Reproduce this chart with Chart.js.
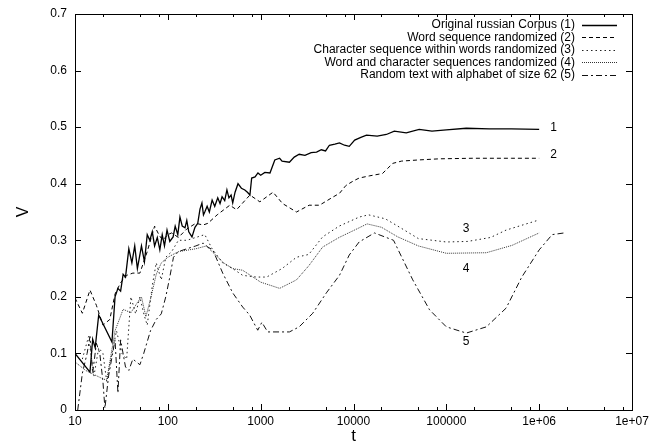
<!DOCTYPE html>
<html>
<head>
<meta charset="utf-8">
<script src="https://cdn.jsdelivr.net/npm/chart.js@4"></script>
<style>
html,body{margin:0;padding:0;background:#fff;}
canvas{display:block;}
</style>
</head>
<body>
<canvas id="c" width="663" height="447"></canvas>
<script>
// ---- data ----
const seriesNames = [
  "Original russian Corpus (1)",
  "Word sequence randomized (2)",
  "Character sequence within words randomized (3)",
  "Word and character sequences randomized (4)",
  "Random text with alphabet of size 62 (5)"
];
const xTickValues = [10, 100, 1000, 10000, 100000, 1000000, 10000000];
const xTickLabels = ["10", "100", "1000", "10000", "100000", "1e+06", "1e+07"];
const yTickValues = [0, 0.1, 0.2, 0.3, 0.4, 0.5, 0.6, 0.7];
const yTickLabels = ["0", "0.1", "0.2", "0.3", "0.4", "0.5", "0.6", "0.7"];

const t1 = [10,14.5,15.5,16.5,18,25,27,29,31,33,35,38,41,44,47,52,56,60,64,68,72,77,82,87,92,98,105,114,120,128,135,143,153,160,168,182,196,210,222,233,242,250,265,280,300,320,345,365,384,410,433,455,480,500,530,570,620,675,720,766,800,870,935,1000,1110,1260,1420,1600,1700,2040,2300,2600,3000,3500,4000,4500,5000,5500,6300,7060,8000,9000,10300,12000,13800,18000,22600,27500,37000,51000,70000,100000,164000,290000,500000,1000000];
const v1 = [0.1,0.067,0.125,0.11,0.168,0.12,0.2,0.215,0.21,0.24,0.235,0.285,0.26,0.29,0.25,0.29,0.262,0.31,0.3,0.315,0.29,0.305,0.283,0.31,0.29,0.318,0.298,0.306,0.325,0.31,0.341,0.325,0.322,0.335,0.315,0.306,0.323,0.33,0.355,0.366,0.345,0.35,0.36,0.35,0.371,0.36,0.375,0.365,0.377,0.37,0.389,0.375,0.38,0.366,0.385,0.4,0.392,0.389,0.385,0.38,0.41,0.412,0.419,0.415,0.42,0.419,0.442,0.445,0.44,0.438,0.447,0.452,0.45,0.455,0.456,0.46,0.458,0.468,0.47,0.472,0.468,0.466,0.477,0.482,0.486,0.484,0.487,0.493,0.49,0.496,0.493,0.495,0.498,0.497,0.497,0.496];

const t2 = [10,12,14.5,17,20,23.7,27,31,36,42,50,60,72,80,88,100,110,130,160,200,240,270,340,465,550,766,980,1360,1720,2430,3330,4300,5950,7060,8300,10000,11500,15000,20500,26500,33000,50000,84000,190000,500000,1000000];
const v2 = [0.198,0.171,0.212,0.185,0.15,0.16,0.205,0.225,0.238,0.242,0.242,0.28,0.325,0.31,0.3,0.31,0.313,0.305,0.32,0.33,0.327,0.33,0.345,0.362,0.354,0.38,0.368,0.385,0.365,0.35,0.362,0.362,0.376,0.383,0.397,0.405,0.41,0.414,0.418,0.436,0.44,0.442,0.444,0.445,0.445,0.445];

const t3 = [12,14,16,18,20,22,25,28,32,36,40,45,50,55,60,68,75,85,95,110,130,160,200,250,300,390,500,640,900,1160,1700,2430,3300,4650,7000,11500,14500,22000,30000,50000,100000,170000,300000,440000,1000000];
const v3 = [0.09,0.13,0.06,0.11,0.1,0.05,0.1,0.14,0.1,0.09,0.2,0.17,0.2,0.17,0.15,0.22,0.26,0.23,0.27,0.28,0.3,0.3,0.305,0.31,0.285,0.26,0.25,0.238,0.235,0.235,0.25,0.27,0.275,0.306,0.325,0.341,0.345,0.338,0.325,0.303,0.297,0.298,0.305,0.318,0.336];

const t4 = [10,13,15,20,22,24,27,33,40,47,52,58,66,75,85,100,130,200,260,300,400,500,640,1000,1600,2430,3300,4650,7000,11500,14000,20000,30000,50000,100000,270000,510000,1000000];
const v4 = [0.085,0.07,0.065,0.055,0.053,0.09,0.14,0.178,0.172,0.19,0.2,0.165,0.2,0.24,0.26,0.27,0.28,0.285,0.29,0.28,0.26,0.25,0.247,0.226,0.215,0.23,0.255,0.288,0.305,0.322,0.329,0.323,0.306,0.29,0.277,0.278,0.291,0.313];

const t5 = [10.7,12,13.5,14.5,15.5,17,18.5,20,21,23,27,29,31,35,38,42,50,55,65,75,85,95,105,115,130,160,200,240,270,305,390,500,640,760,930,1030,1190,1600,2040,2600,3640,5100,7060,9000,11500,16800,27000,43500,66000,100000,164000,270000,440000,650000,1000000,1380000,1860000];
const v5 = [0,0.065,0.1,0.13,0.065,0.118,0.1,0.05,0.003,0.06,0.124,0.03,0.124,0.076,0.07,0.09,0.08,0.1,0.14,0.16,0.17,0.2,0.235,0.27,0.28,0.285,0.29,0.295,0.288,0.283,0.242,0.207,0.182,0.168,0.141,0.155,0.138,0.138,0.138,0.147,0.171,0.207,0.238,0.274,0.297,0.313,0.3,0.23,0.177,0.147,0.136,0.147,0.18,0.235,0.283,0.31,0.313];

const lineLabelText = ["1", "2", "3", "4", "5"];
const lineLabelT = [1430000, 1430000, 163000, 163000, 163000];
const lineLabelV = [0.4985, 0.451, 0.32, 0.249, 0.12];

// ---- styles ----
const styles = [
  {color: "#000", width: 1.3, dash: []},
  {color: "#000", width: 1, dash: [4, 3]},
  {color: "#222", width: 1, dash: [1.5, 3]},
  {color: "#333", width: 1, dash: [1, 1]},
  {color: "#111", width: 1, dash: [6, 3, 2, 3]}
];
const FONT = "'Liberation Sans', Arial, Helvetica, sans-serif";

function pts(ts, vs) { return ts.map((t, i) => ({x: t, y: vs[i]})); }
const allData = [pts(t1, v1), pts(t2, v2), pts(t3, v3), pts(t4, v4), pts(t5, v5)];

const datasets = allData.map((d, i) => ({
  label: seriesNames[i],
  data: d,
  borderColor: styles[i].color,
  borderWidth: styles[i].width,
  borderDash: styles[i].dash,
  pointRadius: 0,
  tension: 0,
  fill: false
}));

const decor = {
  id: "decor",
  afterDatasetsDraw(chart) {
    const ctx = chart.ctx;
    const a = chart.chartArea;
    const xs = chart.scales.x, ys = chart.scales.y;
    ctx.save();
    ctx.strokeStyle = "#000";
    ctx.lineWidth = 1;
    ctx.setLineDash([]);
    // frame
    ctx.strokeRect(Math.round(a.left) + 0.5, Math.round(a.top) + 0.5, Math.round(a.right - a.left), Math.round(a.bottom - a.top));
    ctx.beginPath();
    // x ticks
    xTickValues.forEach((v, i) => {
      const px = Math.round(xs.getPixelForValue(v)) + 0.5;
      ctx.moveTo(px, a.bottom); ctx.lineTo(px, a.bottom - 6);
      ctx.moveTo(px, a.top); ctx.lineTo(px, a.top + 6);
      if (i < xTickValues.length - 1) {
        [2, 5, 8].forEach(m => {
          const mx = Math.round(xs.getPixelForValue(v * m)) + 0.5;
          ctx.moveTo(mx, a.bottom); ctx.lineTo(mx, a.bottom - 3);
          ctx.moveTo(mx, a.top); ctx.lineTo(mx, a.top + 3);
        });
      }
    });
    // y ticks
    yTickValues.forEach(v => {
      const py = Math.round(ys.getPixelForValue(v)) + 0.5;
      ctx.moveTo(a.left, py); ctx.lineTo(a.left + 6, py);
      ctx.moveTo(a.right, py); ctx.lineTo(a.right - 6, py);
    });
    ctx.stroke();

    // legend
    ctx.font = "12px " + FONT;
    ctx.fillStyle = "#000";
    ctx.textAlign = "right";
    ctx.textBaseline = "middle";
    const lx = 575, sx0 = 582, sx1 = 617, ly0 = 25, dy = 12.4;
    seriesNames.forEach((n, i) => {
      const y = ly0 + i * dy;
      ctx.fillText(n, lx, y);
      ctx.beginPath();
      ctx.strokeStyle = styles[i].color;
      ctx.lineWidth = styles[i].width;
      ctx.setLineDash(styles[i].dash);
      ctx.moveTo(sx0, Math.round(y) + 0.5);
      ctx.lineTo(sx1, Math.round(y) + 0.5);
      ctx.stroke();
    });
    ctx.setLineDash([]);

    // line labels
    ctx.textAlign = "center";
    lineLabelText.forEach((s, i) => {
      ctx.fillText(s, xs.getPixelForValue(lineLabelT[i]), ys.getPixelForValue(lineLabelV[i]));
    });
    ctx.restore();
  }
};

new Chart(document.getElementById("c"), {
  type: "line",
  data: {datasets},
  plugins: [decor],
  options: {
    responsive: false,
    animation: false,
    devicePixelRatio: 1,
    layout: {padding: {top: 14, right: 31, left: 0, bottom: 0}},
    plugins: {legend: {display: false}, tooltip: {enabled: false}},
    scales: {
      x: {
        type: "logarithmic",
        min: 10, max: 10000000,
        grid: {display: false, drawTicks: false},
        border: {display: false},
        afterBuildTicks: s => { s.ticks = xTickValues.map(v => ({value: v})); },
        afterFit: s => { s.height = 37; s.paddingLeft = 0; s.paddingRight = 0; },
        ticks: {
          autoSkip: false, maxRotation: 0, padding: 4,
          color: "#000", font: {family: FONT, size: 12},
          callback: (v, i) => xTickLabels[i]
        },
        title: {display: true, text: "t", color: "#000", font: {family: FONT, size: 17}, padding: {top: 0, bottom: 0}}
      },
      y: {
        type: "linear",
        min: 0, max: 0.7,
        grid: {display: false, drawTicks: false},
        border: {display: false},
        afterBuildTicks: s => { s.ticks = yTickValues.map(v => ({value: v})); },
        afterFit: s => { s.width = 75; s.paddingTop = 0; s.paddingBottom = 0; },
        ticks: {
          padding: 8, color: "#000", font: {family: FONT, size: 12},
          callback: (v, i) => yTickLabels[i]
        },
        title: {display: true, text: "V", color: "#000", font: {family: FONT, size: 16}, padding: {top: 14, bottom: 0}}
      }
    }
  }
});
</script>
</body>
</html>
